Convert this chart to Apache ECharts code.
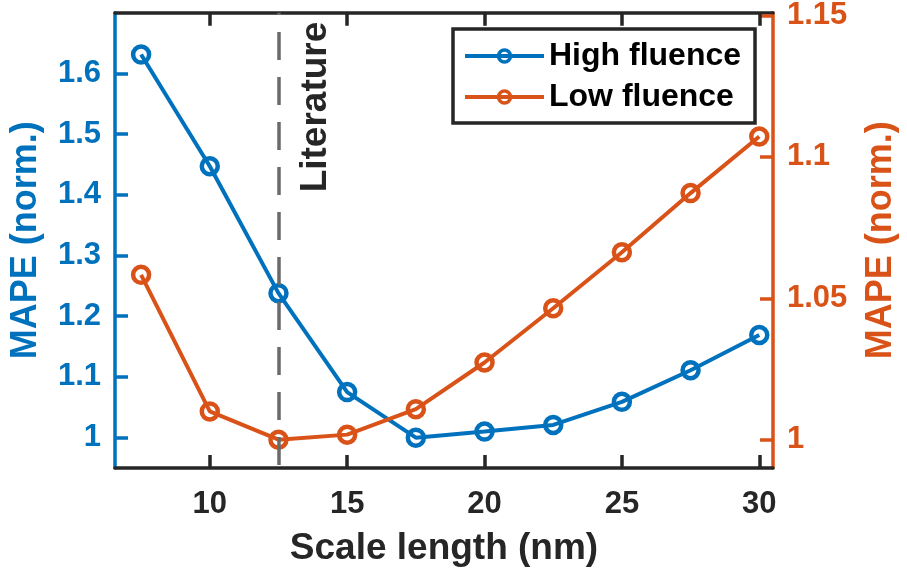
<!DOCTYPE html>
<html>
<head>
<meta charset="utf-8">
<script src="https://cdn.jsdelivr.net/npm/echarts@6/dist/echarts.min.js"></script>
<style>
html,body{margin:0;padding:0;background:#fff;}
#chart{width:907px;height:573px;}
</style>
</head>
<body>
<div id="chart"></div>
<script>
const scaleLength = [7.5, 10, 12.5, 15, 17.5, 20, 22.5, 25, 27.5, 30];
const highFluence = [1.631, 1.447, 1.238, 1.075, 1.000, 1.010, 1.021, 1.059, 1.111, 1.169];
const lowFluence = [1.0583, 1.0100, 1.0000, 1.0018, 1.0108, 1.0273, 1.0465, 1.0663, 1.0872, 1.1072];
const xTicks = [10, 15, 20, 25, 30];
const leftTicks = [1, 1.1, 1.2, 1.3, 1.4, 1.5, 1.6];
const rightTicks = [1, 1.05, 1.1, 1.15];
const literatureX = 12.5;
const seriesNames = ['High fluence', 'Low fluence'];

const BLUE = '#0072BD', ORANGE = '#D95319', DARK = '#262626';
const FONT = '"Liberation Sans", Arial, Helvetica, sans-serif';
const fmt = v => String(+v.toFixed(3));

const chart = echarts.init(document.getElementById('chart'), null, {renderer: 'canvas'});
function xAxisCfg(pos, withLabels) {
  return {
    type: 'value', position: pos, min: 6.55, max: 30.5,
    axisLine: {show: true, onZero: false, lineStyle: {color: DARK, width: 3.5}},
    axisTick: {show: true, inside: true, length: 13, customValues: xTicks, lineStyle: {color: DARK, width: 3.5}},
    axisLabel: {show: withLabels, customValues: xTicks, margin: 21, color: DARK, fontSize: 31, fontWeight: 'bold', fontFamily: FONT, formatter: fmt},
    splitLine: {show: false},
    name: withLabels ? 'Scale length (nm)' : '',
    nameLocation: 'middle', nameGap: 62,
    nameTextStyle: {color: DARK, fontSize: 37, fontWeight: 'bold', fontFamily: FONT}
  };
}
function yAxisCfg(pos, min, max, ticks, color) {
  return {
    type: 'value', position: pos, min: min, max: max,
    axisLine: {show: true, onZero: false, lineStyle: {color: color, width: 3.5}},
    axisTick: {show: true, inside: true, length: 13, customValues: ticks, lineStyle: {color: color, width: 3.5}},
    axisLabel: {customValues: ticks, margin: 14, color: color, fontSize: 31, fontWeight: 'bold', fontFamily: FONT, formatter: fmt},
    splitLine: {show: false},
    name: 'MAPE (norm.)', nameLocation: 'middle', nameRotate: 90,
    nameGap: pos === 'left' ? 71 : 90,
    nameTextStyle: {color: color, fontSize: 36, fontWeight: 'bold', fontFamily: FONT}
  };
}
function lineSeries(name, values, yIndex, color) {
  return {
    name: name, type: 'line', xAxisIndex: 0, yAxisIndex: yIndex,
    data: scaleLength.map((x, i) => [x, values[i]]),
    symbol: 'circle', symbolSize: 16,
    lineStyle: {color: color, width: 4},
    itemStyle: {color: 'rgba(255,255,255,0)', borderColor: color, borderWidth: 4.5},
    emphasis: {disabled: true}, z: 3
  };
}
const s0 = lineSeries(seriesNames[0], highFluence, 0, BLUE);
s0.markLine = {
  silent: true, symbol: 'none', animation: false,
  lineStyle: {color: '#6a6a6a', width: 3.5, type: [28, 17], dashOffset: 42},
  label: {show: true, formatter: 'Literature', position: 'insideEndBottom', distance: [9, 19],
          color: DARK, fontSize: 37, fontWeight: 'bold', fontFamily: FONT},
  data: [{xAxis: literatureX}]
};
const s1 = lineSeries(seriesNames[1], lowFluence, 1, ORANGE);

const option = {
  backgroundColor: '#fff',
  animation: false,
  grid: {left: 114, right: 132, top: 7, bottom: 105, containLabel: false},
  xAxis: [xAxisCfg('bottom', true), xAxisCfg('top', false)],
  yAxis: [yAxisCfg('left', 0.95, 1.7, leftTicks, BLUE), yAxisCfg('right', 0.99, 1.151, rightTicks, ORANGE)],
  legend: {
    data: seriesNames, orient: 'vertical', left: 453, top: 29,
    itemWidth: 79, itemHeight: 15, itemGap: 9,
    padding: [11, 14, 10, 10],
    borderColor: DARK, borderWidth: 3.5, backgroundColor: '#fff',
    itemStyle: {borderWidth: 3.5},
    lineStyle: {width: 4},
    textStyle: {color: '#000', fontSize: 32, fontWeight: 'bold', fontFamily: FONT, lineHeight: 32},
    selectedMode: false
  },
  series: [s0, s1]
};
chart.setOption(option);
</script>
</body>
</html>
